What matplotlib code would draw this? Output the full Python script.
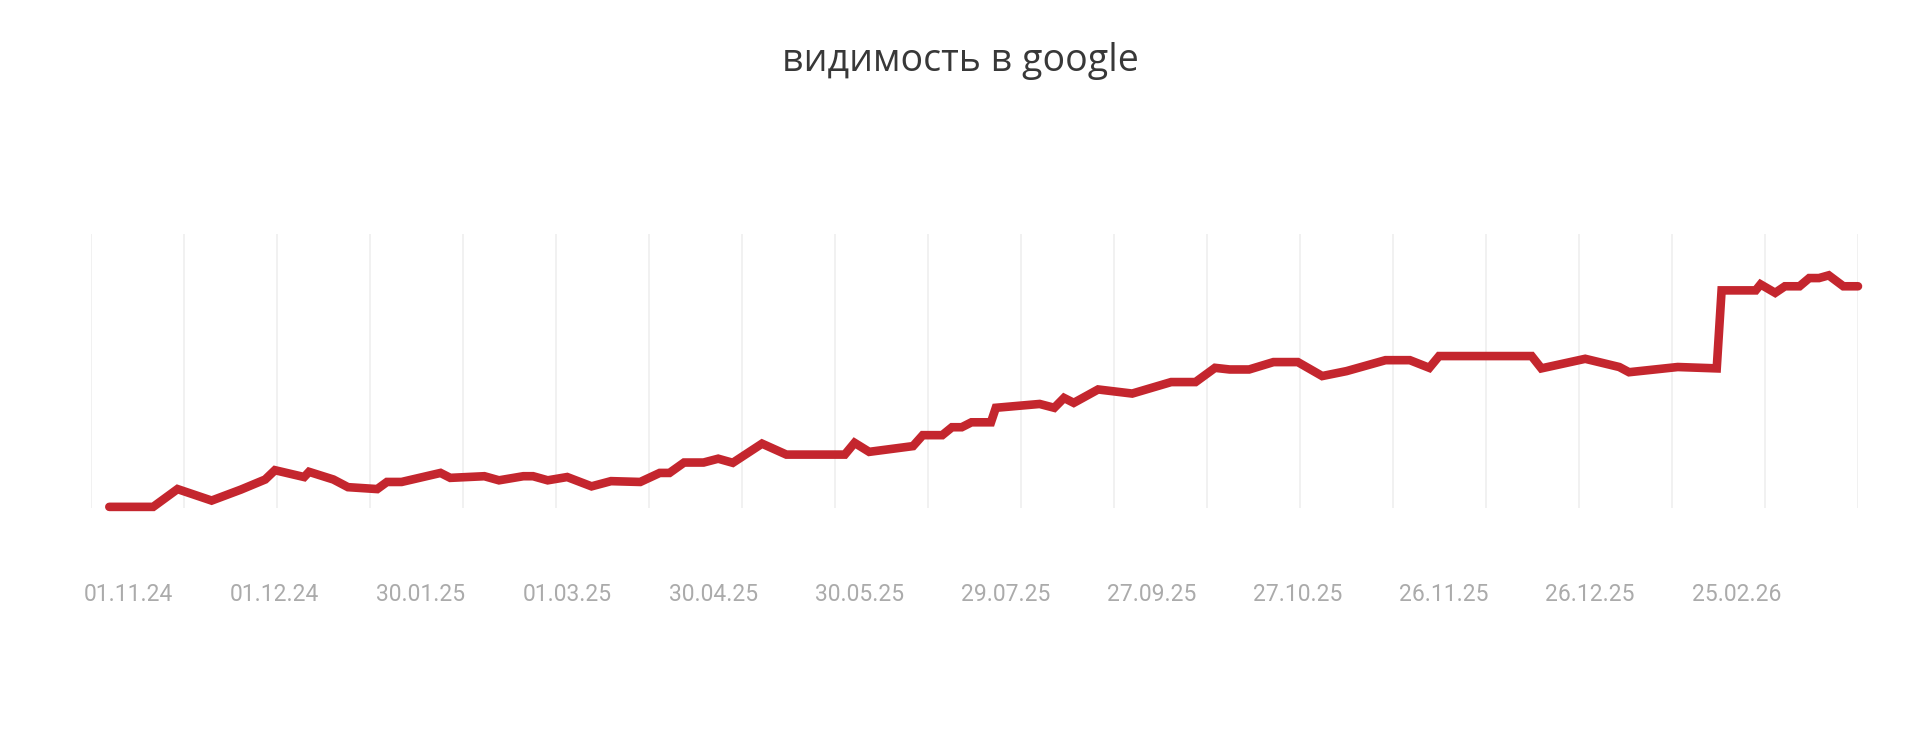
import numpy as np
import matplotlib.pyplot as plt
from matplotlib.ticker import FixedLocator

# sample number (roughly daily) and visibility value, only the visible turning points
day = [0, 9, 14, 21, 27, 32, 34, 40, 41, 46, 49, 55, 57, 60, 68, 70, 77, 80,
       85, 87, 90, 94, 99, 103, 109, 113, 115, 118, 122, 125, 128, 134, 139,
       151, 153, 156, 165, 167, 171, 173, 175, 177, 181, 182, 191, 194, 196,
       198, 203, 210, 218, 223, 227, 230, 234, 239, 244, 249, 254, 262, 267,
       271, 273, 292, 294, 303, 310, 312, 322, 330, 331, 338, 339, 342, 344,
       347, 349, 351, 353, 356, 359]
visibility = [0.4, 0.4, 6.9, 2.7, 6.7, 10.4, 13.8, 11.3, 13.2, 10.4, 7.6, 6.9,
              9.5, 9.5, 12.8, 11.0, 11.6, 10.1, 11.6, 11.6, 10.1, 11.3, 7.9,
              9.8, 9.5, 12.8, 12.8, 16.6, 16.6, 18.0, 16.5, 23.5, 19.5, 19.5,
              23.8, 20.5, 22.6, 26.6, 26.6, 29.5, 29.5, 31.3, 31.3, 36.6, 38.0,
              36.6, 40.2, 38.4, 43.3, 41.8, 46.0, 46.0, 51.2, 50.6, 50.6, 53.3,
              53.3, 48.2, 50.0, 54.0, 54.0, 51.2, 55.5, 55.5, 51.0, 54.5, 51.5,
              49.6, 51.5, 51.0, 79.5, 79.5, 81.7, 78.6, 81.0, 81.0, 84.0, 84.0,
              85.0, 81.0, 81.0]

date_labels = ["01.11.24", "01.12.24", "30.01.25", "01.03.25", "30.04.25",
               "30.05.25", "29.07.25", "27.09.25", "27.10.25", "26.11.25",
               "26.12.25", "25.02.26"]

fig = plt.figure(figsize=(19.2, 7.55), dpi=100)
ax = fig.add_axes([0.04755, 0.3272, 0.9204, 0.3625])

ax.plot(day, visibility, color="#c4262e", lw=6.2, solid_joinstyle="miter",
        solid_capstyle="round", clip_on=False, zorder=3)

x0, x1 = -3.7, 359.1
ax.set_xlim(x0, x1)
ax.set_ylim(0, 100)

# vertical grid spread evenly over the plot width
ax.xaxis.set_minor_locator(FixedLocator(np.linspace(x0, x1, 20)))
ax.grid(which="minor", axis="x", color="#efefef", lw=1.2)
ax.grid(which="major", visible=False)

ax.set_xticks([4 + 30 * i for i in range(len(date_labels))])
ax.set_xticklabels(date_labels, fontsize=16.5, color="#ababab",
                   family=["Roboto", "DejaVu Sans"])
ax.tick_params(axis="x", which="both", length=0, pad=54)
ax.set_yticks([])
for s in ax.spines.values():
    s.set_visible(False)

fig.text(0.5, 0.919, "видимость в google", ha="center", va="center",
         fontsize=27, color="#383838", family=["Open Sans", "DejaVu Sans"])

fig.savefig("out.png", dpi=100, facecolor="white")
